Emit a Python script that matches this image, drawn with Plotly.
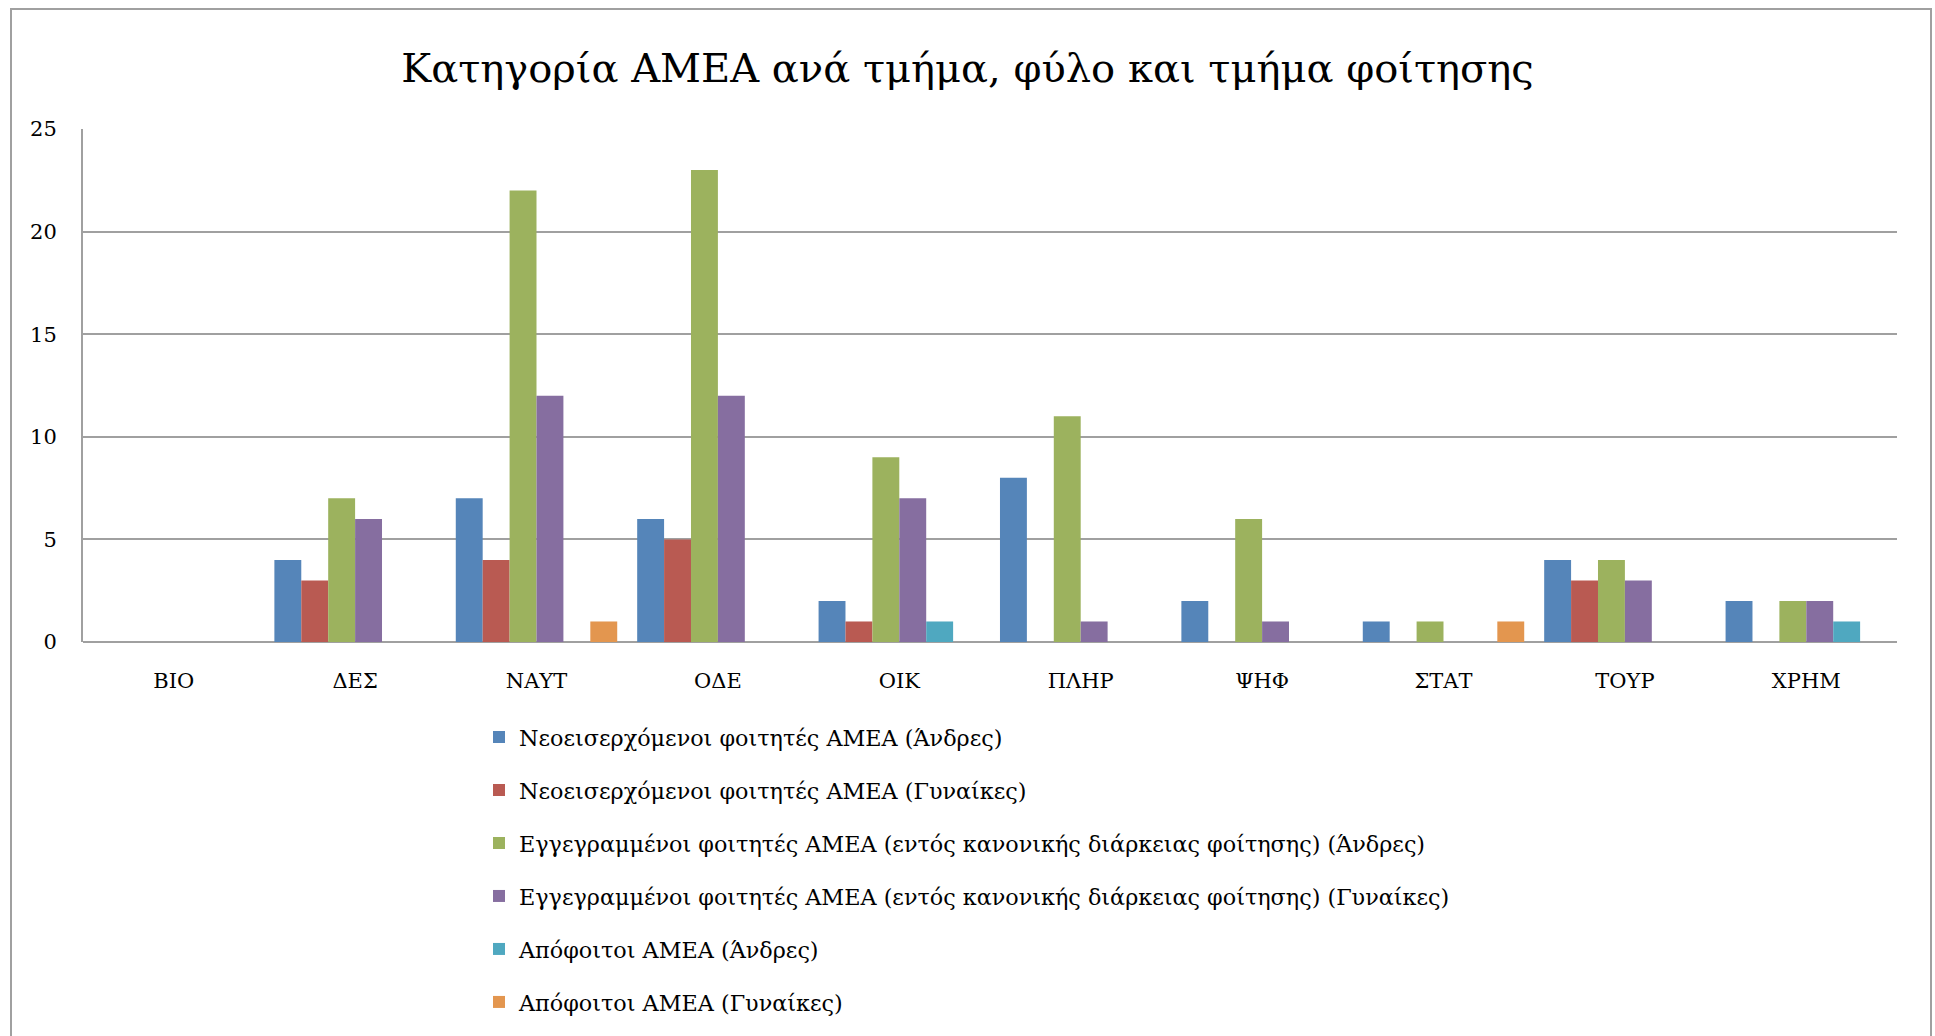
import plotly.graph_objects as go

categories = ["ΒΙΟ", "ΔΕΣ", "ΝΑΥΤ", "ΟΔΕ", "ΟΙΚ", "ΠΛΗΡ", "ΨΗΦ", "ΣΤΑΤ", "ΤΟΥΡ", "ΧΡΗΜ"]

series_names = [
    "Νεοεισερχόμενοι φοιτητές ΑΜΕΑ (Άνδρες)",
    "Νεοεισερχόμενοι φοιτητές ΑΜΕΑ (Γυναίκες)",
    "Εγγεγραμμένοι φοιτητές ΑΜΕΑ (εντός κανονικής διάρκειας φοίτησης) (Άνδρες)",
    "Εγγεγραμμένοι φοιτητές ΑΜΕΑ (εντός κανονικής διάρκειας φοίτησης) (Γυναίκες)",
    "Απόφοιτοι ΑΜΕΑ (Άνδρες)",
    "Απόφοιτοι ΑΜΕΑ (Γυναίκες)",
]

new_men = [0, 4, 7, 6, 2, 8, 2, 1, 4, 2]
new_women = [0, 3, 4, 5, 1, 0, 0, 0, 3, 0]
enrolled_men = [0, 7, 22, 23, 9, 11, 6, 1, 4, 2]
enrolled_women = [0, 6, 12, 12, 7, 1, 1, 0, 3, 2]
grad_men = [0, 0, 0, 0, 1, 0, 0, 0, 0, 1]
grad_women = [0, 0, 1, 0, 0, 0, 0, 1, 0, 0]

series_values = [new_men, new_women, enrolled_men, enrolled_women, grad_men, grad_women]
colors = ["#5585B9", "#B95A52", "#9CB25E", "#866EA0", "#4FA8C0", "#E3964F"]

y_ticks = [0, 5, 10, 15, 20, 25]

# The visible window is 1035x1036; the figure is drawn a little taller so the
# legend never forces plotly to shrink the plot area (page overflow is hidden).
W, H = 1935, 1090
L, R, T, B = 83, 1897, 129, 642
pw, ph = R - L, B - T

FONT = "DejaVu Serif"

fig = go.Figure()
for i, (name, vals, col) in enumerate(zip(series_names, series_values, colors)):
    fig.add_trace(go.Bar(
        x=categories, y=vals, name=name,
        marker=dict(color=col, line=dict(width=0)),
        legendgroup=f"g{i}",
    ))

def px_x(p):
    return (p - L) / pw

def px_y(p):
    return (B - p) / ph

fig.update_layout(
    width=W, height=H,
    margin=dict(l=L, r=W - R, t=T, b=H - B, pad=0),
    paper_bgcolor="white", plot_bgcolor="white",
    barmode="group", bargap=0.11, bargroupgap=0,
    title=dict(text="Κατηγορία ΑΜΕΑ ανά τμήμα, φύλο και τμήμα φοίτησης",
               x=0.5, xanchor="center", y=1 - 68 / H, yanchor="middle",
               font=dict(family=FONT, size=40, color="black")),
    font=dict(family=FONT, color="black"),
    showlegend=True,
    legend=dict(
        x=px_x(479), xanchor="left",
        y=px_y(716), yanchor="top",
        font=dict(family=FONT, size=22.3, color="black"),
        tracegroupgap=21,
        bgcolor="rgba(0,0,0,0)",
        itemclick=False,
    ),
    xaxis=dict(
        showgrid=False, showline=False, zeroline=False,
        ticks="", tickfont=dict(family=FONT, size=21, color="black"),
        ticklabelstandoff=24,
    ),
    yaxis=dict(
        range=[0, 25], tickvals=y_ticks,
        showgrid=True, gridcolor="#A0A0A0", gridwidth=2,
        zeroline=True, zerolinecolor="#A0A0A0", zerolinewidth=2,
        showline=True, linecolor="#A0A0A0", linewidth=2,
        ticks="", tickfont=dict(family=FONT, size=21, color="black"),
        ticklabelstandoff=20,
    ),
    shapes=[
        dict(type="rect", xref="paper", yref="paper",
             x0=px_x(11), x1=px_x(1931), y0=px_y(1080), y1=px_y(9),
             line=dict(color="#A0A0A0", width=2), fillcolor="rgba(0,0,0,0)",
             layer="below"),
    ],
)

fig.write_html(
    "out.html",
    config={"displayModeBar": False},
    post_script="document.body.style.margin='0';document.body.style.overflow='hidden';",
)
